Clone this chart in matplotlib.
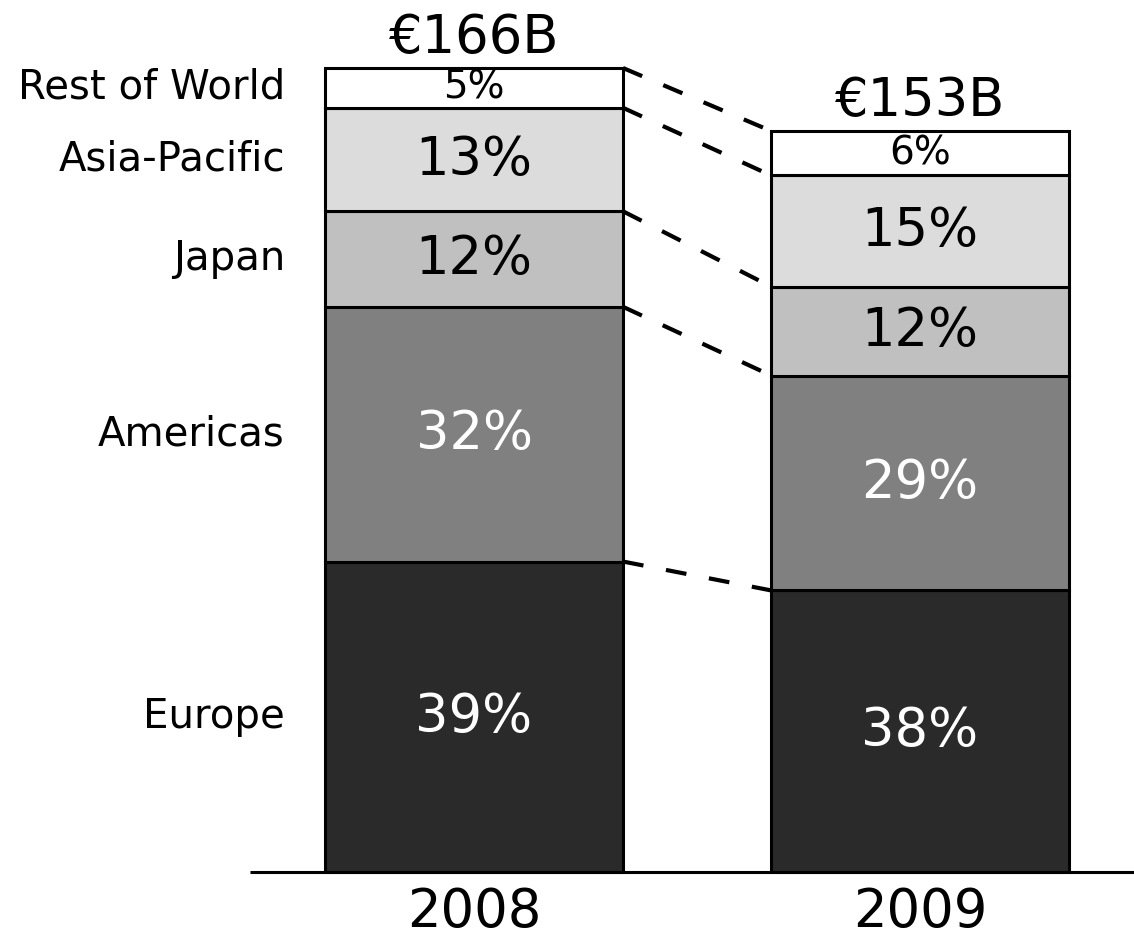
import matplotlib.pyplot as plt
import numpy as np

# --- Data --------------------------------------------------------------------
YEARS = ["2008", "2009"]
TOTALS = [166, 153]
TOTAL_LABELS = ["€166B", "€153B"]
REGIONS = ["Europe", "Americas", "Japan", "Asia-Pacific", "Rest of World"]
SHARES_2008 = [39, 32, 12, 13, 5]
SHARES_2009 = [38, 29, 12, 15, 6]
# -----------------------------------------------------------------------------

COLORS = ["#2a2a2a", "#808080", "#c0c0c0", "#dcdcdc", "#ffffff"]
TEXT_COLORS = ["white", "white", "black", "black", "black"]
PCT_SIZES = [38, 38, 38, 38, 28]

W, H = 1134, 932
fig = plt.figure(figsize=(W / 100, H / 100), dpi=100)
ax = fig.add_axes([0, 0, 1, 1])
ax.set_axis_off()

# pixel -> data mapping: bar centres at 474 / 920 px, baseline at 872 px
px_x = 446.0
ax.set_xlim(-474 / px_x, (W - 474) / px_x)
per_px = 166 / 804.0
ax.set_ylim(-(H - 872) * per_px, 872 * per_px)

bar_w = 298 / px_x
xs = np.arange(len(YEARS))

tops = []
for i, shares in enumerate([SHARES_2008, SHARES_2009]):
    segs = np.array(shares, float) / sum(shares) * TOTALS[i]
    bottoms = np.concatenate([[0], np.cumsum(segs)[:-1]])
    ax.bar(xs[i], segs, bar_w, bottom=bottoms, color=COLORS,
           edgecolor="black", linewidth=2.2, zorder=3)
    for j, (b, s) in enumerate(zip(bottoms, segs)):
        ax.text(xs[i], b + s / 2, f"{shares[j]}%", ha="center", va="center",
                fontsize=PCT_SIZES[j], color=TEXT_COLORS[j], zorder=4)
        if i == 0:
            ax.text(-0.424, b + s / 2, REGIONS[j], ha="right", va="center",
                    fontsize=29, color="black")
    ax.text(xs[i], TOTALS[i] + 30 * per_px, TOTAL_LABELS[i], ha="center",
            va="center", fontsize=38)
    ax.text(xs[i], -40 * per_px, YEARS[i], ha="center", va="center",
            fontsize=38)
    tops.append(bottoms[1:].tolist() + [TOTALS[i]])

# dashed connectors between segment tops
for a, b in zip(tops[0], tops[1]):
    ax.plot([bar_w / 2, 1 - bar_w / 2], [a, b], color="black", lw=3,
            dashes=(5, 5.5), solid_capstyle="butt", zorder=2)

# baseline
ax.plot([(250 - 474) / px_x, (W - 474) / px_x], [0, 0], color="black",
        lw=2.2, zorder=5, solid_capstyle="butt")

fig.savefig("out.png", dpi=100)
